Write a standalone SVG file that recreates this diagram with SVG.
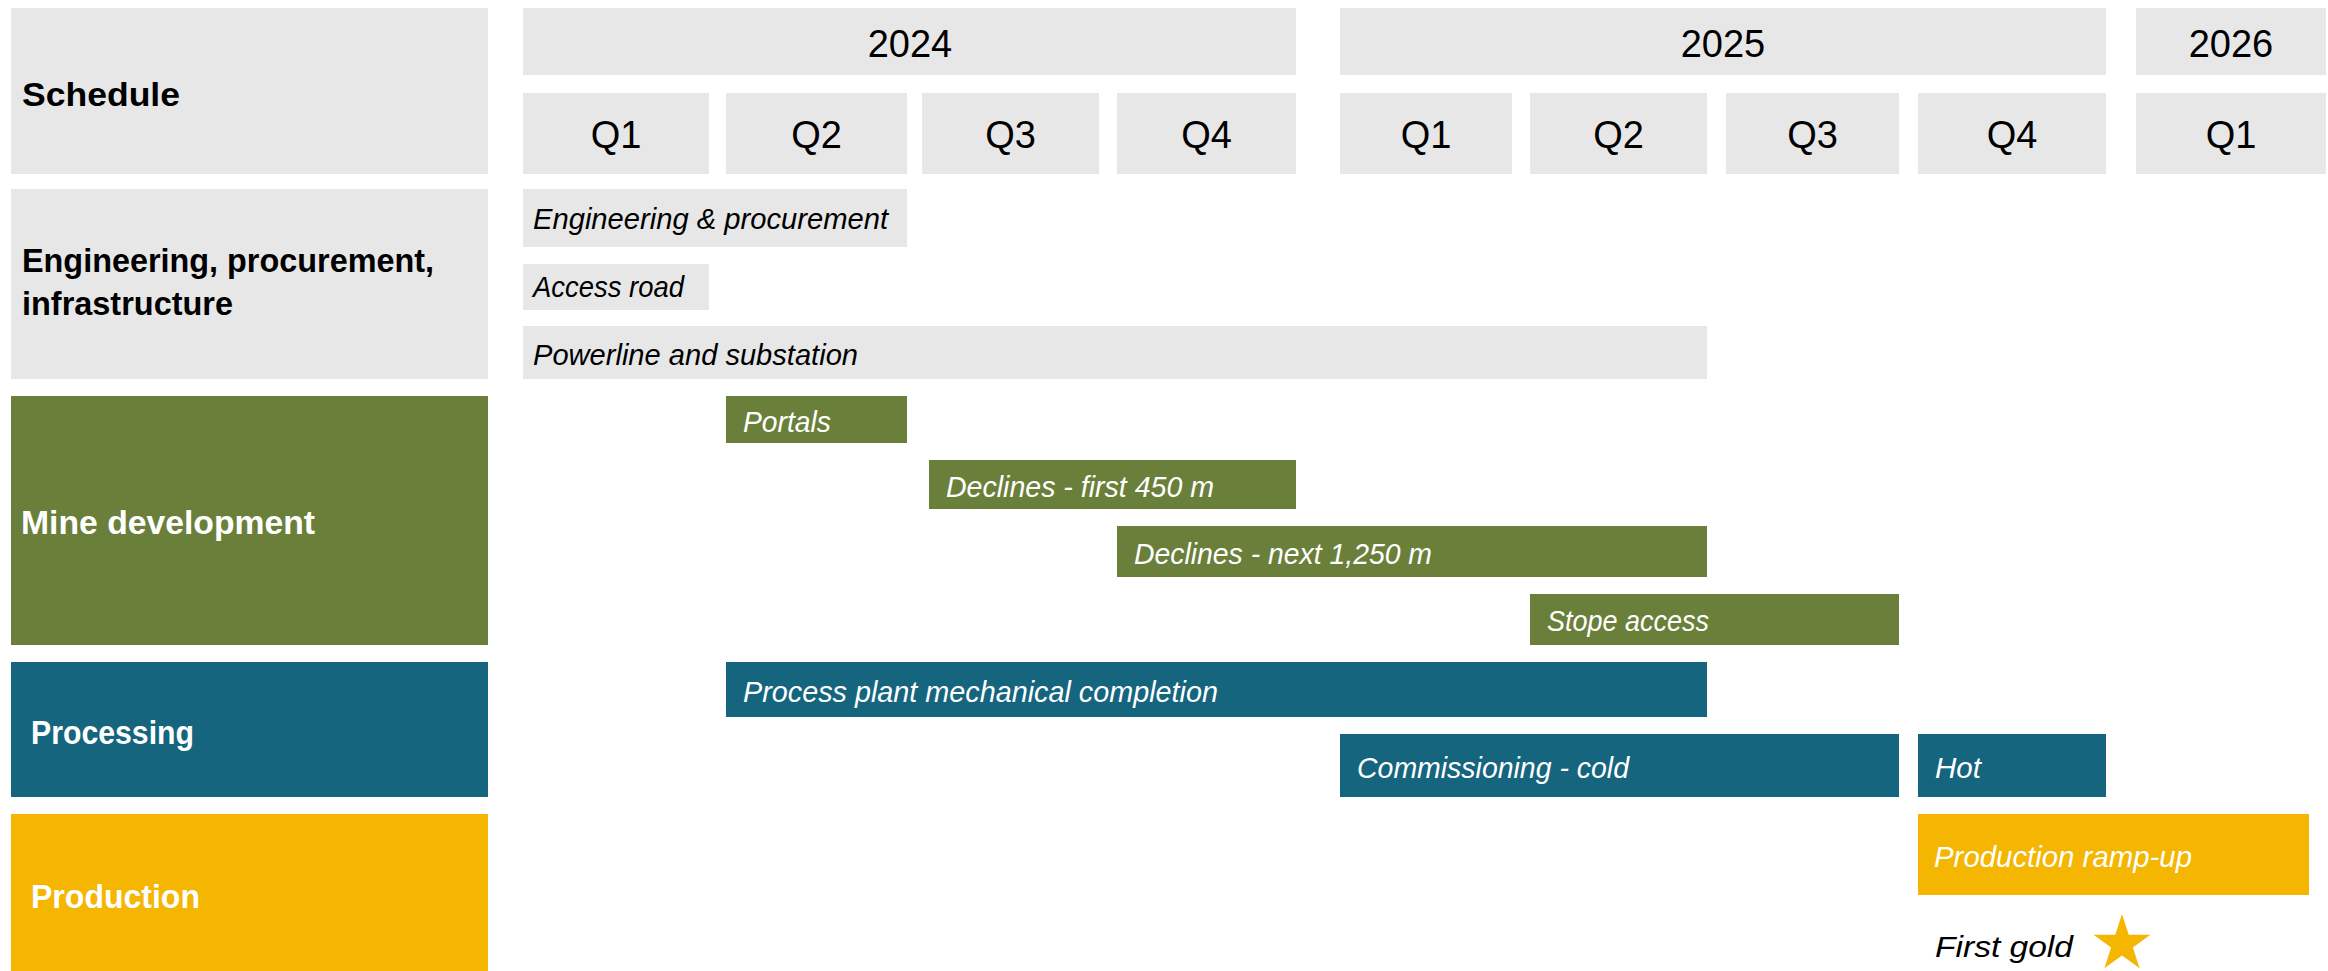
<svg xmlns="http://www.w3.org/2000/svg" width="2328" height="971" viewBox="0 0 2328 971">
<style>
.g{fill:#E7E7E7}
.gr{fill:#6A803A}
.bl{fill:#15657E}
.ye{fill:#F4B600}
.hd{font-family:"Liberation Sans Narrow","Liberation Sans",Arial,sans-serif;font-size:38px;fill:#000;text-anchor:middle}
.lb{font-family:"Liberation Sans",Arial,sans-serif;font-size:33px;font-weight:bold}
.it{font-family:"Liberation Sans",Arial,sans-serif;font-size:29px;font-style:italic}
.k{fill:#000}
.w{fill:#fff}
</style>
<rect width="2328" height="971" fill="#fff"/>
<g id="header">
  <g id="schedule"><rect class="g" x="11" y="8" width="477" height="166"/><text class="lb k" x="22" y="106" textLength="158" lengthAdjust="spacingAndGlyphs">Schedule</text></g>
  <g id="y2024"><rect class="g" x="523" y="8" width="773" height="67"/><text class="hd" x="910" y="57">2024</text></g>
  <g id="y2025"><rect class="g" x="1340" y="8" width="766" height="67"/><text class="hd" x="1723" y="57">2025</text></g>
  <g id="y2026"><rect class="g" x="2136" y="8" width="190" height="67"/><text class="hd" x="2231" y="57">2026</text></g>
  <g id="q1-24"><rect class="g" x="523" y="93" width="186" height="81"/><text class="hd" x="616" y="148">Q1</text></g>
  <g id="q2-24"><rect class="g" x="726" y="93" width="181" height="81"/><text class="hd" x="816.5" y="148">Q2</text></g>
  <g id="q3-24"><rect class="g" x="922" y="93" width="177" height="81"/><text class="hd" x="1010.5" y="148">Q3</text></g>
  <g id="q4-24"><rect class="g" x="1117" y="93" width="179" height="81"/><text class="hd" x="1206.5" y="148">Q4</text></g>
  <g id="q1-25"><rect class="g" x="1340" y="93" width="172" height="81"/><text class="hd" x="1426" y="148">Q1</text></g>
  <g id="q2-25"><rect class="g" x="1530" y="93" width="177" height="81"/><text class="hd" x="1618.5" y="148">Q2</text></g>
  <g id="q3-25"><rect class="g" x="1726" y="93" width="173" height="81"/><text class="hd" x="1812.5" y="148">Q3</text></g>
  <g id="q4-25"><rect class="g" x="1918" y="93" width="188" height="81"/><text class="hd" x="2012" y="148">Q4</text></g>
  <g id="q1-26"><rect class="g" x="2136" y="93" width="190" height="81"/><text class="hd" x="2231" y="148">Q1</text></g>
</g>
<g id="epi">
  <g id="epi-label"><rect class="g" x="11" y="189" width="477" height="190"/>
    <text class="lb k" x="22" y="272" textLength="412" lengthAdjust="spacingAndGlyphs">Engineering, procurement,</text>
    <text class="lb k" x="22" y="315" textLength="211" lengthAdjust="spacingAndGlyphs">infrastructure</text></g>
  <g id="eng-proc"><rect class="g" x="523" y="189" width="384" height="58"/><text class="it k" x="533" y="229" textLength="355" lengthAdjust="spacingAndGlyphs">Engineering &amp; procurement</text></g>
  <g id="access-road"><rect class="g" x="523" y="264" width="186" height="46"/><text class="it k" x="533" y="297" textLength="151" lengthAdjust="spacingAndGlyphs">Access road</text></g>
  <g id="powerline"><rect class="g" x="523" y="326" width="1184" height="53"/><text class="it k" x="533" y="365" textLength="325" lengthAdjust="spacingAndGlyphs">Powerline and substation</text></g>
</g>
<g id="mine">
  <g id="mine-label"><rect class="gr" x="11" y="396" width="477" height="249"/><text class="lb w" x="21" y="534" textLength="294" lengthAdjust="spacingAndGlyphs">Mine development</text></g>
  <g id="portals"><rect class="gr" x="726" y="396" width="181" height="47"/><text class="it w" x="743" y="432" textLength="88" lengthAdjust="spacingAndGlyphs">Portals</text></g>
  <g id="declines-first"><rect class="gr" x="929" y="460" width="367" height="49"/><text class="it w" x="946" y="497" textLength="268" lengthAdjust="spacingAndGlyphs">Declines - first 450 m</text></g>
  <g id="declines-next"><rect class="gr" x="1117" y="526" width="590" height="51"/><text class="it w" x="1134" y="564" textLength="298" lengthAdjust="spacingAndGlyphs">Declines - next 1,250 m</text></g>
  <g id="stope"><rect class="gr" x="1530" y="594" width="369" height="51"/><text class="it w" x="1547" y="631" textLength="162" lengthAdjust="spacingAndGlyphs">Stope access</text></g>
</g>
<g id="processing">
  <g id="proc-label"><rect class="bl" x="11" y="662" width="477" height="135"/><text class="lb w" x="31" y="744" textLength="163" lengthAdjust="spacingAndGlyphs">Processing</text></g>
  <g id="plant"><rect class="bl" x="726" y="662" width="981" height="55"/><text class="it w" x="743" y="702" textLength="475" lengthAdjust="spacingAndGlyphs">Process plant mechanical completion</text></g>
  <g id="comm-cold"><rect class="bl" x="1340" y="734" width="559" height="63"/><text class="it w" x="1357" y="778" textLength="272" lengthAdjust="spacingAndGlyphs">Commissioning - cold</text></g>
  <g id="hot"><rect class="bl" x="1918" y="734" width="188" height="63"/><text class="it w" x="1935" y="778" textLength="46" lengthAdjust="spacingAndGlyphs">Hot</text></g>
</g>
<g id="production">
  <g id="prod-label"><rect class="ye" x="11" y="814" width="477" height="157"/><text class="lb w" x="31" y="908" textLength="169" lengthAdjust="spacingAndGlyphs">Production</text></g>
  <g id="ramp-up"><rect class="ye" x="1918" y="814" width="391" height="81"/><text class="it w" x="1934" y="867" textLength="258" lengthAdjust="spacingAndGlyphs">Production ramp-up</text></g>
  <g id="first-gold"><text class="it k" x="1935" y="957" textLength="138" lengthAdjust="spacingAndGlyphs">First gold</text>
    <polygon class="ye" points="2122,914 2128.7,934.7 2150.4,934.7 2132.9,947.5 2139.6,968.2 2122,955.4 2104.4,968.2 2111.1,947.5 2093.6,934.7 2115.3,934.7"/></g>
</g>
</svg>
